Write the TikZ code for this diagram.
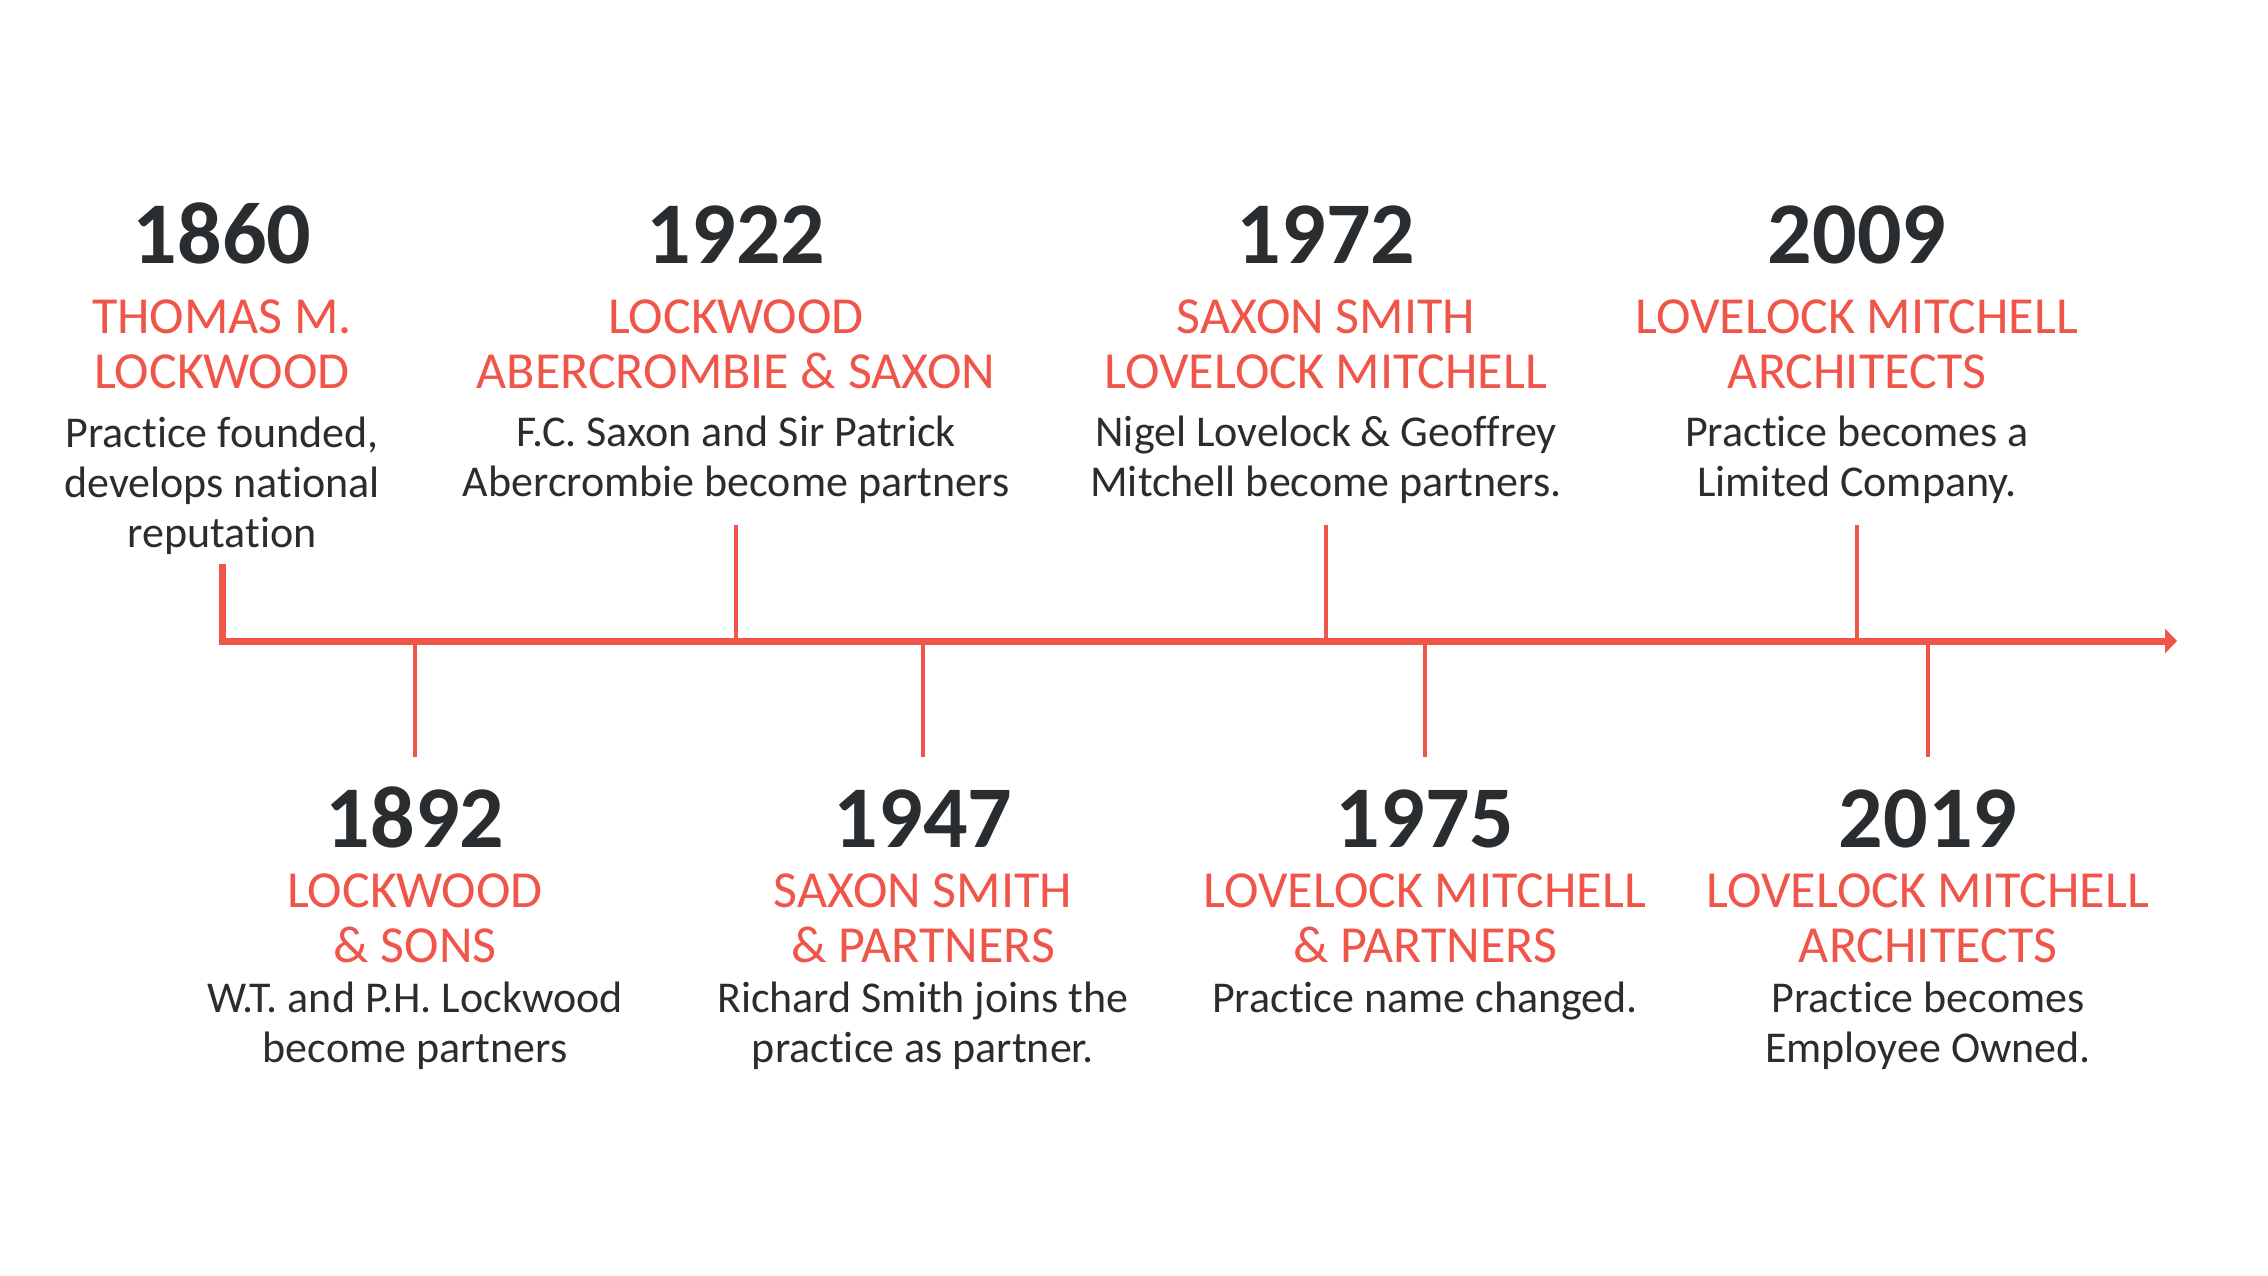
\documentclass[tikz,border=0pt]{standalone}
\usepackage{fontspec}
\setmainfont{Carlito}[Ligatures=NoCommon]
\usetikzlibrary{arrows.meta, positioning}
\definecolor{lmred}{HTML}{F0554A}
\definecolor{lmdark}{HTML}{2A2D30}

\begin{document}
\begin{tikzpicture}[
        x=1pt, y=-1pt,
        year/.style={font=\fontsize{88}{88}\selectfont\bfseries, text=lmdark, inner sep=0pt, anchor=base},
        firm/.style={font=\fontsize{52}{55}\selectfont, text=lmred, align=center, inner sep=0pt},
        note/.style={font=\fontsize{44}{50}\selectfont, text=lmdark, align=center, inner sep=0pt},
        axis/.style={draw=lmred, line width=7pt, line join=miter, -{Triangle[length=12pt, width=24pt]}},
        tick/.style={draw=lmred, line width=4pt}
    ]
        \useasboundingbox (0,0) rectangle (2268,1276);

        % above the line (base = last line of each node)
        \node[year] (y1860) at (222,263)  {1860};
        \node[firm, below=125pt of y1860.base, anchor=base] (f1860) {THOMAS M.\\LOCKWOOD};
        \node[note, below=159pt of f1860.base, anchor=base] (d1860) {Practice founded,\\develops national\\reputation};

        \node[year] (y1922) at (736,263)  {1922};
        \node[firm, below=125pt of y1922.base, anchor=base] (f1922) {LOCKWOOD\\ABERCROMBIE \& SAXON};
        \node[note, below=108pt of f1922.base, anchor=base] (d1922) {F.C. Saxon and Sir Patrick\\Abercrombie become partners};

        \node[year] (y1972) at (1326,263) {1972};
        \node[firm, below=125pt of y1972.base, anchor=base] (f1972) {SAXON SMITH\\LOVELOCK MITCHELL};
        \node[note, below=108pt of f1972.base, anchor=base] (d1972) {Nigel Lovelock \& Geoffrey\\Mitchell become partners.};

        \node[year] (y2009) at (1857,263) {2009};
        \node[firm, below=125pt of y2009.base, anchor=base] (f2009) {LOVELOCK MITCHELL\\ARCHITECTS};
        \node[note, below=108pt of f2009.base, anchor=base] (d2009) {Practice becomes a\\Limited Company.};

        % below the line
        \node[year] (y1892) at (415,847)  {1892};
        \node[firm, below=115pt of y1892.base, anchor=base] (f1892) {LOCKWOOD\\\& SONS};
        \node[note, below=100pt of f1892.base, anchor=base] (d1892) {W.T. and P.H. Lockwood\\become partners};

        \node[year] (y1947) at (923,847)  {1947};
        \node[firm, below=115pt of y1947.base, anchor=base] (f1947) {SAXON SMITH\\\& PARTNERS};
        \node[note, below=100pt of f1947.base, anchor=base] (d1947) {Richard Smith joins the\\practice as partner.};

        \node[year] (y1975) at (1425,847) {1975};
        \node[firm, below=115pt of y1975.base, anchor=base] (f1975) {LOVELOCK MITCHELL\\\& PARTNERS};
        \node[note, below=50pt of f1975.base, anchor=base] (d1975) {Practice name changed.};

        \node[year] (y2019) at (1928,847) {2019};
        \node[firm, below=115pt of y2019.base, anchor=base] (f2019) {LOVELOCK MITCHELL\\ARCHITECTS};
        \node[note, below=100pt of f2019.base, anchor=base] (d2019) {Practice becomes\\Employee Owned.};

        % timeline
        \coordinate (start) at (222,564);
        \coordinate (stop)  at (2177,641);
        \draw[axis] (start) |- (stop);

        \coordinate (k1922) at (736,525);
        \coordinate (k1972) at (1326,525);
        \coordinate (k2009) at (1857,525);
        \coordinate (k1892) at (415,757);
        \coordinate (k1947) at (923,757);
        \coordinate (k1975) at (1425,757);
        \coordinate (k2019) at (1928,757);

        \draw[tick] (k1922) -- (k1922 |- stop);
        \draw[tick] (k1972) -- (k1972 |- stop);
        \draw[tick] (k2009) -- (k2009 |- stop);
        \draw[tick] (k1892) -- (k1892 |- stop);
        \draw[tick] (k1947) -- (k1947 |- stop);
        \draw[tick] (k1975) -- (k1975 |- stop);
        \draw[tick] (k2019) -- (k2019 |- stop);
    \end{tikzpicture}
\end{document}
